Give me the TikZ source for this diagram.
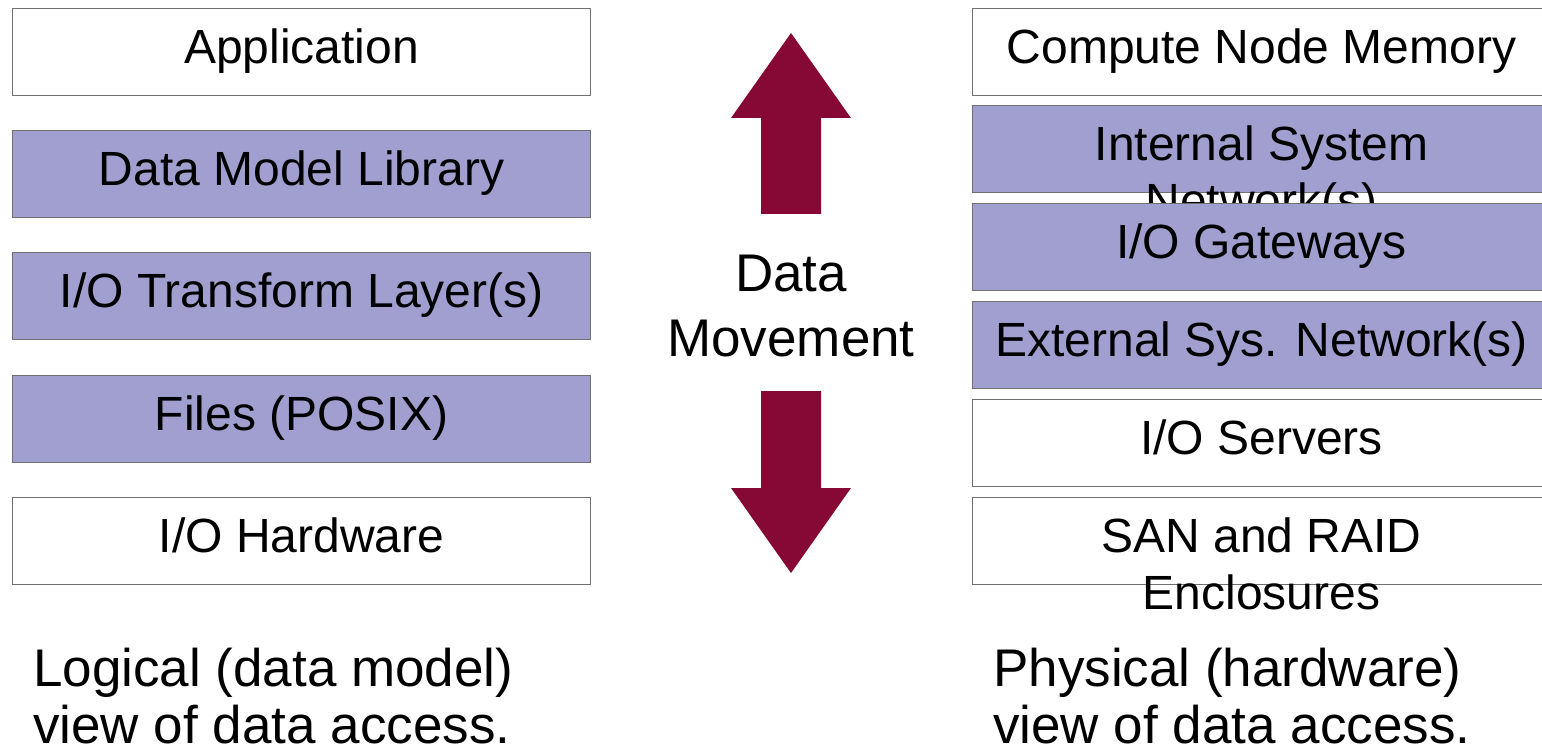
\documentclass[tikz,border=0pt]{standalone}
\usepackage{fontspec}
\setmainfont{Liberation Sans}
\definecolor{layerfill}{RGB}{160,159,208}
\definecolor{layerline}{RGB}{112,112,112}
\definecolor{movecolor}{RGB}{133,8,53}
\tikzset{
  layerbox/.style={draw=layerline, line width=1.2pt, minimum width=578pt,
    minimum height=87pt, inner sep=0pt, anchor=north west},
  plainlayer/.style={layerbox, fill=white},
  shadedlayer/.style={layerbox, fill=layerfill},
  layertext/.style={anchor=north, inner sep=0pt, align=center,
    font=\fontsize{48}{57}\selectfont},
  captiontext/.style={inner sep=0pt, align=left,
    font=\fontsize{53}{57}\selectfont},
  movetext/.style={inner sep=0pt, align=center,
    font=\fontsize{53}{65}\selectfont},
  movearrow/.style={fill=movecolor, draw=none}
}
% box node, then its label hanging from the top edge
\newcommand{\layerbox}[5]{%
  \node[#4] (#1) at (#2,#3) {};
  \node[layertext] (#1-label) at ([yshift=-21pt]#1.north) {#5};
}
\begin{document}
\begin{tikzpicture}[x=1pt,y=-1pt]
  \clip (0,0) rectangle (1542,754);
  \fill[white] (0,0) rectangle (1542,754);

  % logical stack
  \layerbox{app}{12}{8}{plainlayer}{Application}
  \layerbox{dml}{12}{130}{shadedlayer}{Data Model Library}
  \layerbox{iot}{12}{252}{shadedlayer}{I/O Transform Layer(s)}
  \layerbox{files}{12}{375}{shadedlayer}{Files (POSIX)}
  \layerbox{iohw}{12}{497}{plainlayer}{I/O Hardware}

  % physical stack
  \layerbox{cnm}{972}{8}{plainlayer}{Compute Node Memory}
  \layerbox{isn}{972}{105}{shadedlayer}{Internal System\\Network(s)}
  \layerbox{iog}{972}{203}{shadedlayer}{I/O Gateways}
  \layerbox{esn}{972}{301}{shadedlayer}{External Sys. Network(s)}
  \layerbox{ios}{972}{399}{plainlayer}{I/O Servers}
  \layerbox{san}{972}{497}{plainlayer}{SAN and RAID\\Enclosures}

  % data movement arrows
  \coordinate (uptip) at (791,33);
  \coordinate (downtip) at (791,573);
  \fill[movearrow] (uptip) -- (851,118) -- (821,118) -- (821,214)
    -- (761,214) -- (761,118) -- (731,118) -- cycle;
  \fill[movearrow] (downtip) -- (851,488) -- (821,488) -- (821,391)
    -- (761,391) -- (761,488) -- (731,488) -- cycle;
  \node[movetext] (move) at (791,306) {Data\\Movement};

  % captions
  \node[captiontext, anchor=north west] (logical) at (33,648)
    {Logical (data model)\\view of data access.};
  \node[captiontext, anchor=north west] (physical) at (993,648)
    {Physical (hardware)\\view of data access.};
\end{tikzpicture}
\end{document}
